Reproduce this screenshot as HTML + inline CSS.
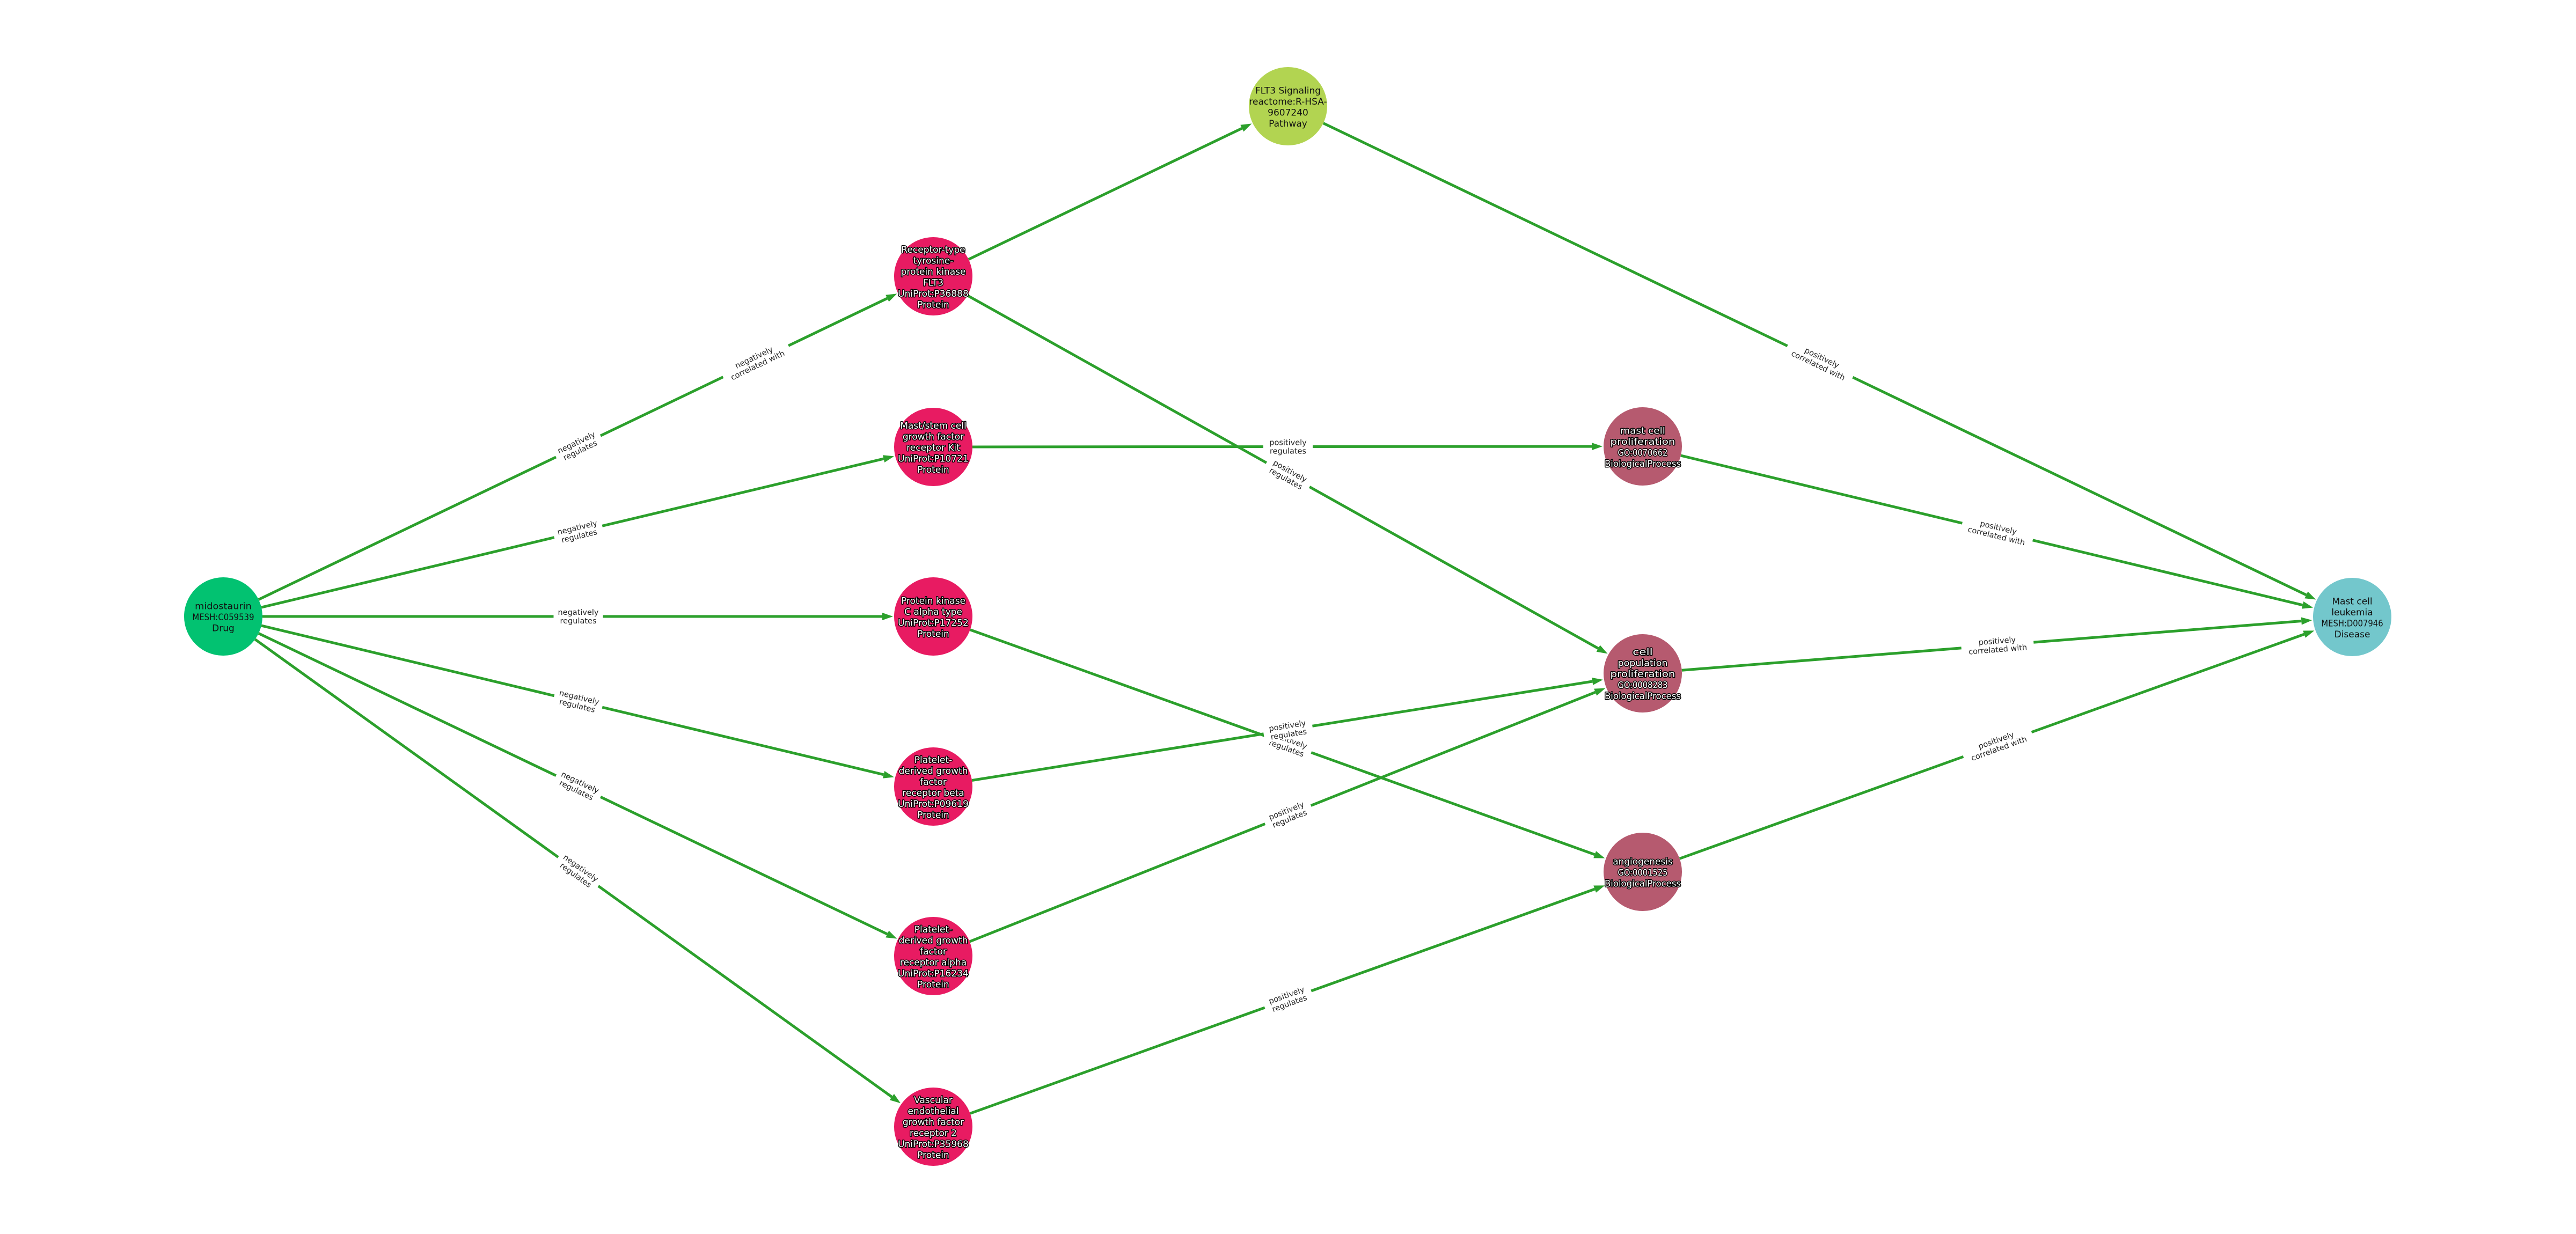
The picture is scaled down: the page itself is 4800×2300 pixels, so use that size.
<!DOCTYPE html>
<html><head><meta charset="utf-8">
<style>
html,body{margin:0;padding:0;background:#fff;}
svg{display:block;}
text{font-family:"DejaVu Sans","Liberation Sans",sans-serif;}
</style></head>
<body>
<svg id="s" width="4800" height="2300" viewBox="0 0 4800 2300" xmlns="http://www.w3.org/2000/svg">
<g id="edges"></g><g id="labels"></g><g id="nodes"></g>
</svg>
<script>
const N={
 mido:[416,1149,'#02c271',['midostaurin','MESH:C059539','Drug'],'dark'],
 path:[2400,198,'#b2d451',['FLT3 Signaling','reactome:R-HSA-','9607240','Pathway'],'dark'],
 flt3:[1739,515,'#e81b62',['Receptor-type','tyrosine-','protein kinase','FLT3','UniProt:P36888','Protein'],'light'],
 kit:[1739,833,'#e81b62',['Mast/stem cell','growth factor','receptor Kit','UniProt:P10721','Protein'],'light'],
 pkc:[1739,1149,'#e81b62',['Protein kinase','C alpha type','UniProt:P17252','Protein'],'light'],
 pdb:[1739,1466,'#e81b62',['Platelet-','derived growth','factor','receptor beta','UniProt:P09619','Protein'],'light'],
 pda:[1739,1782,'#e81b62',['Platelet-','derived growth','factor','receptor alpha','UniProt:P16234','Protein'],'light'],
 veg:[1739,2100,'#e81b62',['Vascular','endothelial','growth factor','receptor 2','UniProt:P35968','Protein'],'light'],
 mcp:[3061,832,'#b65a6f',['mast cell','proliferation','GO:0070662','BiologicalProcess'],'light'],
 cpp:[3061,1255,'#b65a6f',['cell','population','proliferation','GO:0008283','BiologicalProcess'],'light'],
 ang:[3061,1625,'#b65a6f',['angiogenesis','GO:0001525','BiologicalProcess'],'light'],
 mcl:[4383,1150,'#73c7cc',['Mast cell','leukemia','MESH:D007946','Disease'],'dark']
};
const R=73;
const E=[
 ['mido','flt3',[['negatively','correlated with',0.75],['negatively','regulates',0.5]]],
 ['mido','kit',[['negatively','regulates',0.5]]],
 ['mido','pkc',[['negatively','regulates',0.5]]],
 ['mido','pdb',[['negatively','regulates',0.5]]],
 ['mido','pda',[['negatively','regulates',0.5]]],
 ['mido','veg',[['negatively','regulates',0.5]]],
 ['flt3','path',[]],
 ['flt3','cpp',[['positively','regulates',0.5]]],
 ['kit','mcp',[['positively','regulates',0.5]]],
 ['pkc','ang',[['positively','regulates',0.5]]],
 ['pdb','cpp',[['positively','regulates',0.5]]],
 ['pda','cpp',[['positively','regulates',0.5]]],
 ['veg','ang',[['positively','regulates',0.5]]],
 ['path','mcl',[['positively','correlated with',0.5]]],
 ['mcp','mcl',[['positively','correlated with',0.5]]],
 ['cpp','mcl',[['positively','correlated with',0.5]]],
 ['ang','mcl',[['positively','correlated with',0.5]]]
];
const NS='http://www.w3.org/2000/svg';
function el(t,a,p,txt){const e=document.createElementNS(NS,t);for(const k in a)e.setAttribute(k,a[k]);if(txt!==undefined)e.textContent=txt;p.appendChild(e);return e;}
const ge=document.getElementById('edges'),gl=document.getElementById('labels'),gn=document.getElementById('nodes');
const G='#2ca02c';
for(const [a,b,labs] of E){
 const [x1,y1]=N[a],[x2,y2]=N[b];
 const dx=x2-x1,dy=y2-y1,L=Math.hypot(dx,dy),ux=dx/L,uy=dy/L;
 const sx=x1+ux*R,sy=y1+uy*R,ex=x2-ux*(R+2),ey=y2-uy*(R+2);
 const bx=ex-ux*20,by=ey-uy*20;
 el('line',{x1:sx,y1:sy,x2:bx,y2:by,stroke:G,'stroke-width':5},ge);
 const px=-uy,py=ux;
 el('polygon',{points:`${ex},${ey} ${bx+px*7},${by+py*7} ${bx-px*7},${by-py*7}`,fill:G},ge);
 let ang=Math.atan2(dy,dx)*180/Math.PI;
 if(ang>90)ang-=180;if(ang<-90)ang+=180;
 for(const [l1,l2,f] of labs){
  const mx=x1+dx*f,my=y1+dy*f;
  const g=el('g',{transform:`translate(${mx},${my}) rotate(${ang})`},gl);
  const w=Math.max(l1.length,l2.length)*8.6+6;
  el('rect',{x:-w/2,y:-17,width:w,height:34,fill:'#fff'},g);
  el('text',{x:0,y:-3,'text-anchor':'middle','font-size':14.5,fill:'#222'},g,l1);
  el('text',{x:0,y:13,'text-anchor':'middle','font-size':14.5,fill:'#222'},g,l2);
 }
}
for(const k in N){
 const [x,y,c,lines,mode]=N[k];
 el('circle',{cx:x,cy:y,r:R,fill:c},gn);
 const lh=20.5,n=lines.length,y0=y-(n-1)*lh/2+7;
 lines.forEach((t,i)=>{
  const a={x:x,y:y0+i*lh,'text-anchor':'middle','font-size':17};
  if(mode==='light'){a.fill='#fff';a.stroke='#000';a['stroke-width']=3;a['paint-order']='stroke';a['stroke-linejoin']='round';}
  else a.fill='#111';
  if(k==='mcp'||k==='cpp'||k==='ang'){a.textLength=Math.min(t.length*9.3,142);a.lengthAdjust='spacingAndGlyphs';}
  if((k==='mido'||k==='mcl')&&t.length>10){a.textLength=t.length*9.6;a.lengthAdjust='spacingAndGlyphs';}
  el('text',a,gn,t);
 });
}
</script>
</body></html>
